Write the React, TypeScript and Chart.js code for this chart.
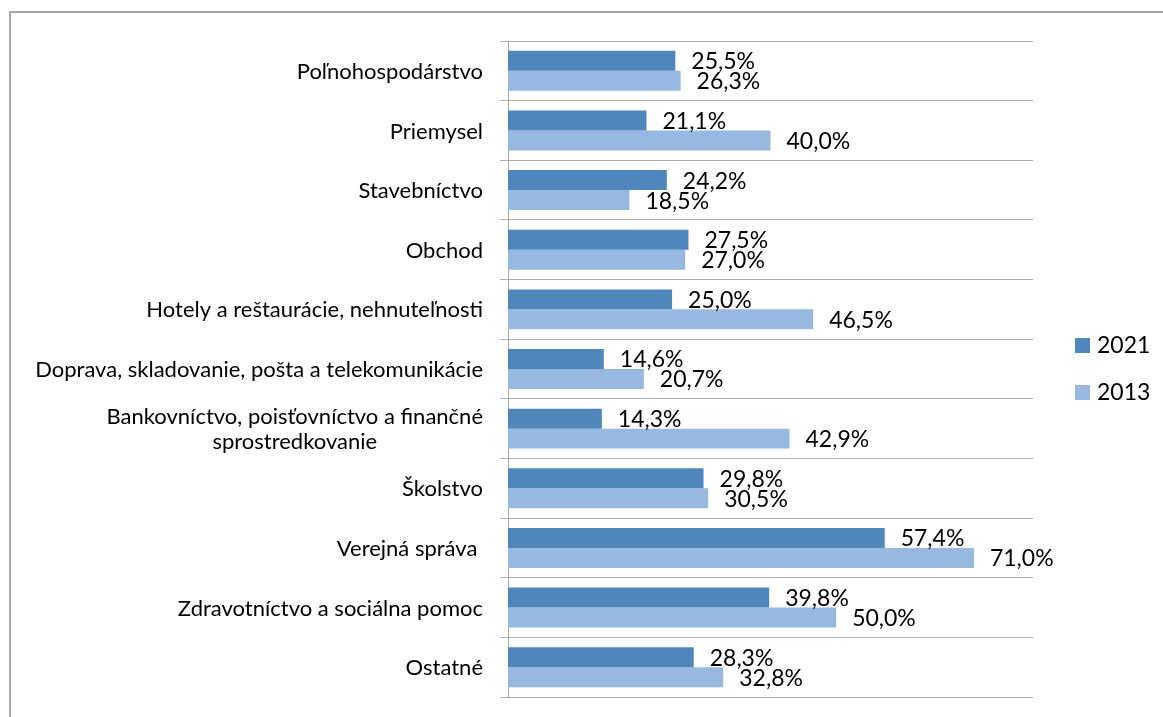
import React, { useEffect, useRef } from "react";
import { Chart, registerables } from "chart.js";

Chart.register(...registerables);

const categories: (string | string[])[] = [
  "Poľnohospodárstvo",
  "Priemysel",
  "Stavebníctvo",
  "Obchod",
  "Hotely a reštaurácie, nehnuteľnosti",
  "Doprava, skladovanie, pošta a telekomunikácie",
  ["Bankovníctvo, poisťovníctvo a finančné", "sprostredkovanie"],
  "Školstvo",
  "Verejná správa ",
  "Zdravotníctvo a sociálna pomoc",
  "Ostatné",
];

const values2021 = [25.5, 21.1, 24.2, 27.5, 25.0, 14.6, 14.3, 29.8, 57.4, 39.8, 28.3];
const values2013 = [26.3, 40.0, 18.5, 27.0, 46.5, 20.7, 42.9, 30.5, 71.0, 50.0, 32.8];

const seriesNames = ["2021", "2013"];
const seriesColors = ["#4F87BC", "#97B8DF"];

const CAT_FONT = "22px Lato";
const NUM_FONT = "23px Lato";
const GRID = "#b0b0b0";

const fmt = (v: number) => v.toFixed(1).replace(".", ",") + "%";

const labelsPlugin = {
  id: "customLabels",
  afterDraw(chart: any) {
    const ctx = chart.ctx;
    const area = chart.chartArea;
    const yScale = chart.scales.y;
    ctx.save();
    ctx.fillStyle = "#000";
    ctx.textBaseline = "middle";

    // data labels
    ctx.font = NUM_FONT;
    chart.data.datasets.forEach((ds: any, di: number) => {
      const meta = chart.getDatasetMeta(di);
      meta.data.forEach((el: any, i: number) => {
        ctx.textAlign = "left";
        ctx.fillText(fmt(ds.data[i]), el.x + 16, el.y + 1);
      });
    });

    // category labels
    ctx.font = CAT_FONT;
    const rightEdge = area.left - 25;
    const lineH = 25;
    chart.data.labels.forEach((lab: any, i: number) => {
      const y = yScale.getPixelForValue(i);
      const lines: string[] = Array.isArray(lab) ? lab : [lab];
      const maxW = Math.max(...lines.map((l) => ctx.measureText(l).width));
      const cx = rightEdge - maxW / 2;
      const startY = y - ((lines.length - 1) * lineH) / 2;
      lines.forEach((l, k) => {
        ctx.textAlign = "center";
        ctx.fillText(l, cx, startY + k * lineH + 1);
      });
    });

    // legend
    ctx.font = NUM_FONT;
    const midY = (area.top + area.bottom) / 2;
    const lx = area.right + 42;
    const offsets = [-24, 23];
    seriesNames.forEach((name, i) => {
      const cy = midY + offsets[i];
      ctx.fillStyle = seriesColors[i];
      ctx.fillRect(lx, cy - 7, 15, 15);
      ctx.fillStyle = "#000";
      ctx.textAlign = "left";
      ctx.fillText(name, lx + 22, cy + 1);
    });
    ctx.restore();
  },
};

export default function App() {
  const ref = useRef<HTMLCanvasElement | null>(null);

  useEffect(() => {
    if (!ref.current) return;
    const chart = new Chart(ref.current, {
      type: "bar",
      data: {
        labels: categories as any,
        datasets: [
          {
            label: seriesNames[0],
            data: values2021,
            backgroundColor: seriesColors[0],
            borderWidth: 0,
            categoryPercentage: 0.67,
            barPercentage: 1,
          },
          {
            label: seriesNames[1],
            data: values2013,
            backgroundColor: seriesColors[1],
            borderWidth: 0,
            categoryPercentage: 0.67,
            barPercentage: 1,
          },
        ],
      },
      options: {
        indexAxis: "y",
        responsive: false,
        animation: false,
        layout: { padding: { top: 41, bottom: 20, left: 0, right: 130 } },
        plugins: {
          legend: { display: false },
          tooltip: { enabled: false },
        },
        scales: {
          x: { type: "linear", min: 0, max: 80, display: false },
          y: {
            type: "category",
            offset: true,
            grid: {
              display: true,
              color: GRID,
              lineWidth: 1,
              offset: true,
              drawTicks: true,
              tickLength: 8,
            },
            border: { display: true, color: "#a6a6a6", width: 1 },
            ticks: { display: false },
            afterFit: (scale: any) => {
              scale.width = 508;
            },
          },
        },
      },
      plugins: [labelsPlugin],
    });
    return () => chart.destroy();
  }, []);

  return (
    <div
      style={{
        position: "absolute",
        left: 0,
        top: 0,
        width: 1163,
        height: 717,
        overflow: "hidden",
        background: "#fff",
      }}
    >
      <div
        style={{
          position: "absolute",
          left: 9,
          top: 11,
          width: 1154,
          height: 706,
          boxSizing: "border-box",
          borderLeft: "2px solid #a6a6a6",
          borderTop: "2px solid #a6a6a6",
        }}
      />
      <canvas
        ref={ref}
        width={1163}
        height={717}
        style={{ position: "absolute", left: 0, top: 0, width: 1163, height: 717 }}
      />
    </div>
  );
}
